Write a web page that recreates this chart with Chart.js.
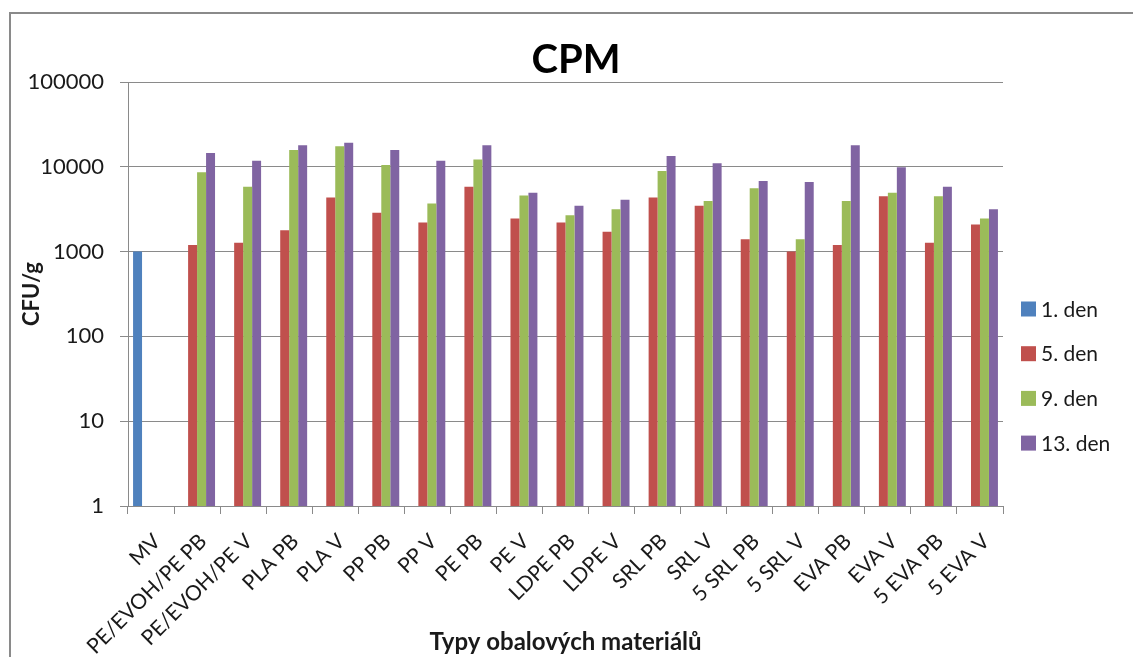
<!DOCTYPE html>
<html>
<head>
<meta charset="utf-8">
<script src="https://cdn.jsdelivr.net/npm/chart.js@4/dist/chart.umd.min.js"></script>
<style>
  html, body { margin: 0; padding: 0; background: #ffffff; }
  #wrap { position: relative; width: 1133px; height: 657px; overflow: hidden; }
  #frame { position: absolute; left: 9px; top: 12px; width: 1200px; height: 700px;
           border-left: 2px solid #8a8a8a; border-top: 2px solid #8a8a8a; box-sizing: border-box; }
  #c { position: absolute; left: 0; top: 0; }
</style>
</head>
<body>
<div id="wrap">
  <div id="frame"></div>
  <canvas id="c" width="1133" height="657"></canvas>
</div>
<script>
// Packaging materials (x categories)
const categories = ['MV', 'PE/EVOH/PE PB', 'PE/EVOH/PE V', 'PLA PB', 'PLA V', 'PP PB', 'PP V',
  'PE PB', 'PE V', 'LDPE PB', 'LDPE V', 'SRL PB', 'SRL V', '5 SRL PB', '5 SRL V',
  'EVA PB', 'EVA V', '5 EVA PB', '5 EVA V'];

// CFU/g counts per sampling day
const den1  = [1000, null, null, null, null, null, null, null, null, null, null, null, null, null, null, null, null, null, null];
const den5  = [null, 1200, 1270, 1780, 4350, 2880, 2200, 5800, 2450, 2200, 1710, 4350, 3480, 1400, 1000, 1200, 4500, 1270, 2090];
const den9  = [null, 8600, 5800, 15800, 17500, 10500, 3700, 12200, 4600, 2680, 3150, 8900, 3950, 5600, 1400, 3950, 4950, 4500, 2450];
const den13 = [null, 14500, 11800, 17900, 19200, 15800, 11800, 17900, 4950, 3480, 4100, 13400, 11000, 6800, 6600, 17900, 9900, 5800, 3150];

const seriesNames = ['1. den', '5. den', '9. den', '13. den'];
const seriesColors = ['#4F81BD', '#C0504D', '#9BBB59', '#8064A2'];

// Log axis ticks (decades)
const yTicks = [1, 10, 100, 1000, 10000, 100000];

const FONT = 'Lato, "Open Sans", sans-serif';
const TXT = '#1a1a1a';
const GRID = '#8a8a8a';

// Legend drawn as a column in the space right of the plot area
const sideLegend = {
  id: 'sideLegend',
  afterDraw(chart) {
    const ctx = chart.ctx;
    const area = chart.chartArea;
    const x0 = area.right + 18;
    const firstY = area.bottom - 197;
    const step = 44.7;
    ctx.save();
    ctx.font = '21px ' + FONT;
    ctx.textBaseline = 'middle';
    ctx.textAlign = 'left';
    chart.data.datasets.forEach((ds, i) => {
      const y = firstY + i * step;
      ctx.fillStyle = ds.backgroundColor;
      ctx.fillRect(x0, y - 7.5, 15, 15);
      ctx.fillStyle = TXT;
      ctx.fillText(ds.label, x0 + 20, y + 1);
    });
    ctx.restore();
  }
};

const datasets = [den1, den5, den9, den13].map((vals, i) => ({
  label: seriesNames[i],
  data: vals,
  backgroundColor: seriesColors[i],
  borderWidth: 0,
  categoryPercentage: 0.78,
  barPercentage: 1.0
}));

new Chart(document.getElementById('c'), {
  type: 'bar',
  data: { labels: categories, datasets },
  plugins: [sideLegend],
  options: {
    responsive: false,
    animation: false,
    layout: { padding: { left: 10, right: -9, top: 0, bottom: 0 } },
    plugins: {
      legend: { display: false },
      tooltip: { enabled: false },
      title: {
        display: true,
        text: 'CPM',
        color: '#000',
        font: { family: FONT, size: 40, weight: 'bold', lineHeight: 1 },
        padding: { top: 40, bottom: 2 }
      }
    },
    scales: {
      x: {
        offset: true,
        grid: { display: true, drawOnChartArea: false, drawTicks: true, tickLength: 8, color: GRID, offset: true },
        border: { display: true, color: GRID, width: 1 },
        ticks: {
          color: TXT, font: { family: FONT, size: 21 }, maxRotation: 45, minRotation: 45,
          autoSkip: false, padding: 15, labelOffset: 6
        },
        title: {
          display: true, text: 'Typy obalových materiálů', color: TXT,
          font: { family: FONT, size: 24, weight: 'bold', lineHeight: 1.2 },
          padding: { top: 0, bottom: 0 }
        },
        afterFit(scale) { scale.height = 151; }
      },
      y: {
        type: 'logarithmic',
        min: 1,
        max: 100000,
        grid: { color: GRID, tickLength: 8, drawTicks: true },
        border: { display: true, color: GRID, width: 1 },
        afterBuildTicks(scale) { scale.ticks = yTicks.map(v => ({ value: v })); },
        ticks: {
          color: TXT, font: { family: FONT, size: 22 }, padding: 16,
          callback: (v) => String(v)
        },
        title: {
          display: true, text: 'CFU/g', color: TXT,
          font: { family: FONT, size: 22, weight: 'bold', lineHeight: 1.2 },
          padding: { top: 9, bottom: 0 }
        },
        afterFit(scale) { scale.width = 118; }
      },
      // empty right-hand box that reserves room for the legend column
      legendSpace: {
        type: 'linear',
        position: 'right',
        display: true,
        grid: { display: false },
        border: { display: false },
        ticks: { display: false },
        afterFit(scale) { scale.width = 139; }
      }
    }
  }
});
</script>
</body>
</html>
